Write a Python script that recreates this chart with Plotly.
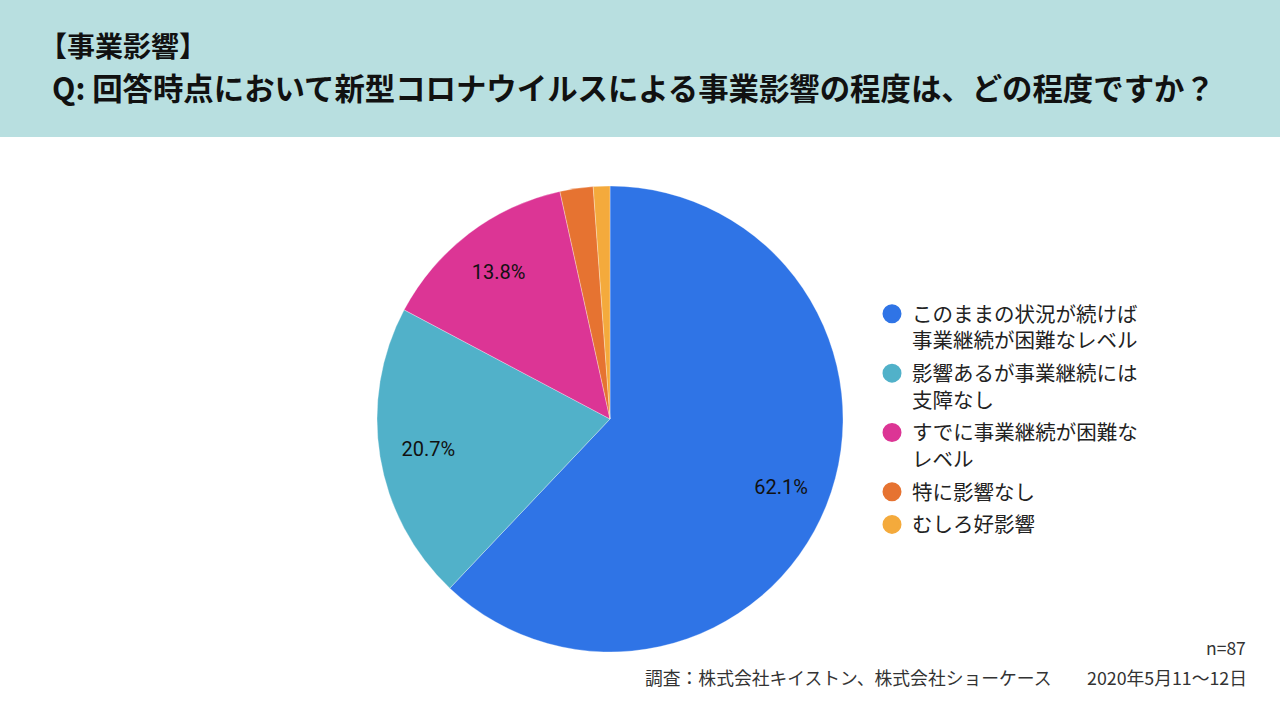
import plotly.graph_objects as go

categories = [
    "このままの状況が続けば<br>事業継続が困難なレベル",
    "影響あるが事業継続には<br>支障なし",
    "すでに事業継続が困難な<br>レベル",
    "特に影響なし",
    "むしろ好影響",
]
counts = [54, 18, 12, 2, 1]
colors = ["#2f74e6", "#51b1c9", "#dc3595", "#e67331", "#f4aa3c"]
label_templates = ["%{percent:.1%}", "%{percent:.1%}", "%{percent:.1%}", "", ""]

title_line1 = "【事業影響】"
title_line2 = "Q: 回答時点において新型コロナウイルスによる事業影響の程度は、どの程度ですか？"
n_text = "n=87"
source_text = "調査：株式会社キイストン、株式会社ショーケース　　2020年5月11〜12日"

FONT = "Noto Sans CJK JP"
pie_domain = dict(x=[(610 - 233) / 1280, (610 + 233) / 1280], y=[1 - 652 / 720, 1 - 186 / 720])

fig = go.Figure()
# main pie (no text)
fig.add_trace(go.Pie(
    labels=categories,
    values=counts,
    sort=False,
    direction="clockwise",
    rotation=0,
    marker=dict(colors=colors, line=dict(color="rgba(255,255,255,0.6)", width=0.5)),
    textinfo="none",
    domain=pie_domain,
    showlegend=False,
    hoverinfo="label+percent",
))
# transparent ring overlay carrying the percentage labels
fig.add_trace(go.Pie(
    labels=categories,
    values=counts,
    sort=False,
    direction="clockwise",
    rotation=0,
    hole=0.58,
    marker=dict(colors=["rgba(0,0,0,0)"] * len(counts), line=dict(width=0)),
    texttemplate=label_templates,
    textposition="inside",
    insidetextorientation="horizontal",
    textfont=dict(family="Roboto", size=20, color="#111111"),
    domain=pie_domain,
    showlegend=False,
    hoverinfo="skip",
))

for cat, col in zip(categories, colors):
    fig.add_trace(go.Scatter(
        x=[None], y=[None], mode="markers", name=cat, legendgroup=cat,
        marker=dict(color=col, size=16, symbol="circle", line=dict(color=col, width=3)),
        showlegend=True,
    ))

fig.update_layout(
    width=1280, height=720,
    margin=dict(l=0, r=0, t=0, b=0),
    paper_bgcolor="white", plot_bgcolor="white",
    xaxis=dict(visible=False), yaxis=dict(visible=False),
    legend=dict(
        x=872 / 1280, y=1 - 294 / 720, xanchor="left", yanchor="top",
        font=dict(family=FONT, size=20.5, color="#222222"),
        bgcolor="rgba(0,0,0,0)", tracegroupgap=3, valign="top",
    ),
    shapes=[dict(type="rect", xref="paper", yref="paper", x0=0, x1=1,
                 y0=1 - 137 / 720, y1=1, fillcolor="#b8dfe0", line=dict(width=0), layer="below")],
    annotations=[
        dict(text="<b>" + title_line1 + "</b>", xref="paper", yref="paper",
             x=37 / 1280, y=1 - 45 / 720, xanchor="left", yanchor="middle", showarrow=False,
             font=dict(family=FONT, size=28, color="#111111")),
        dict(text="<b>" + title_line2 + "</b>", xref="paper", yref="paper",
             x=50 / 1280, y=1 - 87 / 720, xanchor="left", yanchor="middle", showarrow=False,
             font=dict(family=FONT, size=30.4, color="#111111")),
        dict(text=n_text, xref="paper", yref="paper",
             x=1248 / 1280, y=1 - 647 / 720, xanchor="right", yanchor="middle", showarrow=False,
             font=dict(family=FONT, size=17.5, color="#333333")),
        dict(text=source_text, xref="paper", yref="paper",
             x=1249 / 1280, y=1 - 677 / 720, xanchor="right", yanchor="middle", showarrow=False,
             font=dict(family=FONT, size=17.8, color="#333333")),
    ],
)

fig.write_html("out.html")
